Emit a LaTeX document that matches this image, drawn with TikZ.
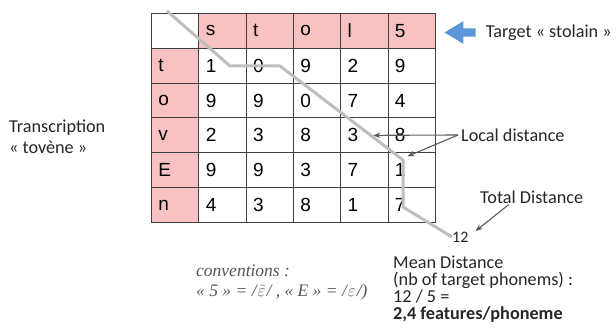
\documentclass[tikz,border=0pt]{standalone}
\usepackage{fontspec}
\setmainfont{Carlito}
\newfontfamily\arialfont{Liberation Sans}
\newfontfamily\timesfont{Liberation Serif}
\usepackage{xcolor}
\usetikzlibrary{positioning,calc,shapes.arrows,arrows.meta}

\definecolor{hdrpink}{HTML}{F9C2C2}
\definecolor{gridgray}{HTML}{3F3F3F}
\definecolor{pathgray}{HTML}{BEBEBE}
\definecolor{txtgray}{HTML}{262626}
\definecolor{arrgray}{HTML}{5A5A5A}
\definecolor{convgray}{HTML}{555555}
\definecolor{tgtblue}{HTML}{5A96D8}

\begin{document}
\begin{tikzpicture}[x=1pt, y=-1pt,
    cell/.style={draw=gridgray, line width=0.9pt, rectangle, anchor=north west,
        minimum height=34.83pt, text width=33.3pt, inner xsep=7pt, inner ysep=0pt,
        align=left, font=\arialfont\fontsize{19}{19}\selectfont, text=black},
    hdr/.style={cell, fill=hdrpink},
    lbl/.style={font=\fontsize{18.2}{21}\selectfont, text=txtgray, inner sep=0pt},
    ptr/.style={-{Stealth[length=7pt,width=5.5pt]}, arrgray, line width=1.1pt},
    dtwpath/.style={pathgray, line width=3pt, line join=round}]
    \useasboundingbox (0,0) rectangle (616,336);

    % distance table
    \foreach \row [count=\i from 0] in {{{},s,t,o,l,5},{t,1,0,9,2,9},{o,9,9,0,7,4},
                                        {v,2,3,8,3,8},{E,9,9,3,7,1},{n,4,3,8,1,7}}
        \foreach \val [count=\j from 0] in \row {
            \pgfmathtruncatemacro\ishdr{((\i==0)||(\j==0))&&!((\i==0)&&(\j==0))}
            \ifnum\ishdr=1 \def\cst{hdr}\else\def\cst{cell}\fi
            \node[\cst] (c-\i-\j) at (151+47.3*\j, 13+34.83*\i) {\val};
        }

    % labels
    \node[single arrow, fill=tgtblue, shape border rotate=180, inner sep=4pt,
          minimum height=31pt, minimum width=17pt, single arrow tip angle=62] (tarrow) at (463.5,32.5) {};
    \node[lbl, right=10pt of tarrow] (target) {Target « stolain »};
    \node[lbl, anchor=west, align=left] (transcr) at (9,136.5) {Transcription\\« tovène »};
    \node[lbl, anchor=west] (local) at (461,135) {Local distance};
    \node[lbl, anchor=west] (total) at (480,197) {Total Distance};
    \node[lbl, anchor=west, font=\fontsize{16}{16}\selectfont] (twelve) at (452,237) {12};
    \node[lbl, anchor=north west, align=left, font=\fontsize{18.2}{17}\selectfont] (mean) at (393,256)
        {Mean Distance\\(nb of target phonems) :\\12 / 5 =\\\textbf{2,4 features/phoneme}};
    \node[anchor=north west, align=left, inner sep=0pt, text=convgray,
          font=\timesfont\itshape\fontsize{17.5}{20}\selectfont] (conv) at (196,265)
        {conventions :\\« 5 » = /\kern1pt$\tilde{\varepsilon}$\kern1pt/ , « E » = /\kern1pt$\varepsilon$\kern1pt/)};

    % alignment path
    \draw[dtwpath] (167,11) -- (230,66) -- (280,66) -- (403,160) -- (403,207) -- (twelve.west);

    % pointers
    \coordinate (tipthree) at ($(c-3-4.center)+(9,0)$);
    \coordinate (tipone) at ($(c-4-5.north)+(-4,4)$);
    \draw[ptr] ([xshift=-3pt]local.west) -- (tipthree);
    \draw[ptr] ([xshift=-3pt]local.west) -- (tipone);
    \draw[ptr] ([xshift=-23pt,yshift=-1pt]total.south) -- ([xshift=7pt,yshift=6pt]twelve.east);
\end{tikzpicture}
\end{document}
